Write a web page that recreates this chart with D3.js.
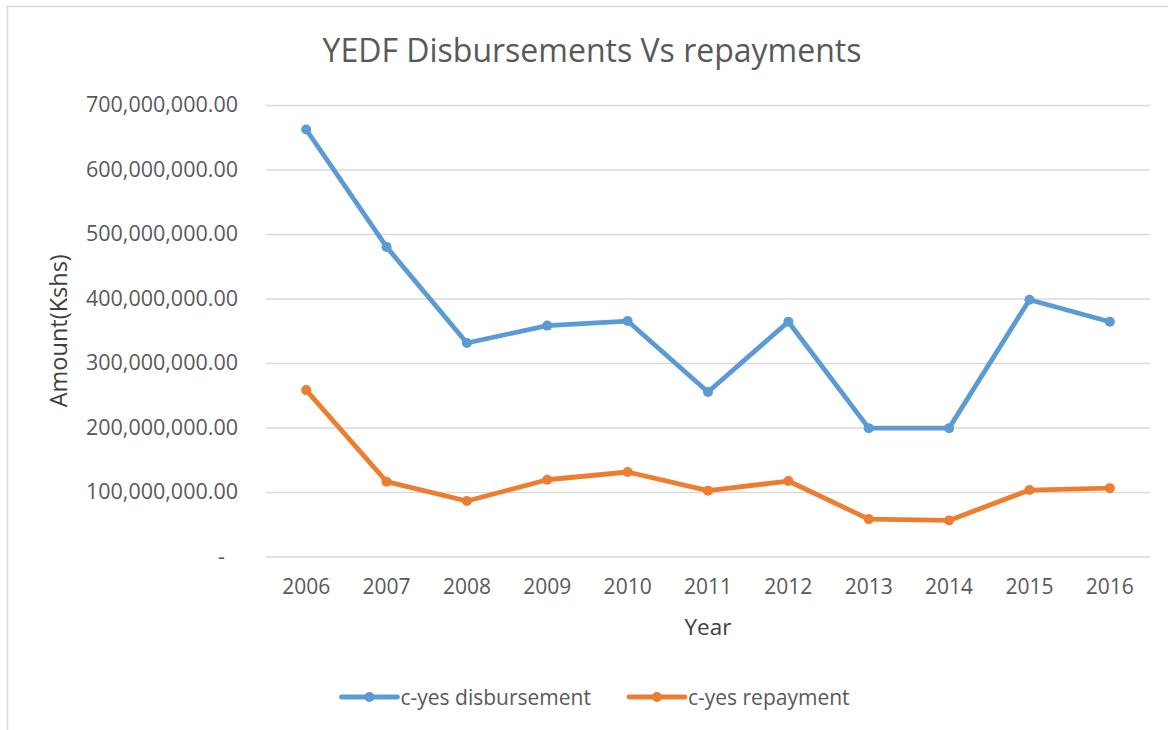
<!DOCTYPE html>
<html>
<head>
<meta charset="utf-8">
<script src="https://cdn.jsdelivr.net/npm/d3@7"></script>
<style>
  html, body { margin: 0; padding: 0; background: #fff; }
  svg { display: block; font-family: "Open Sans", sans-serif; }
</style>
</head>
<body>
<svg id="mainsvg" width="1168" height="730"></svg>
<script>
// 年份 (categories)
const years = ['2006', '2007', '2008', '2009', '2010', '2011', '2012', '2013', '2014', '2015', '2016'];
// c-yes disbursement (Kshs)
const disbursement = [662e6, 480e6, 331e6, 358e6, 365e6, 255e6, 364e6, 199e6, 199e6, 398e6, 364e6];
// c-yes repayment (Kshs)
const repayment = [258e6, 116e6, 86e6, 119e6, 131e6, 102e6, 117e6, 58e6, 56e6, 103e6, 106e6];
const yTicks = [0, 100e6, 200e6, 300e6, 400e6, 500e6, 600e6, 700e6];
const seriesNames = ['c-yes disbursement', 'c-yes repayment'];

(function () {
  const svg = d3.select('#mainsvg'),
    width = Number(svg.attr('width')),
    height = Number(svg.attr('height')),
    margin = { top: 105, right: 18, bottom: 173.5, left: 266 },
    innerWidth = width - margin.left - margin.right,
    innerHeight = height - margin.top - margin.bottom;

  const textColor = '#595959',
    gridColor = '#d9d9d9',
    colors = ['#5b9bd5', '#ed7d31'];

  // 外框
  svg.append('rect')
    .attr('x', 7.5).attr('y', 6.5)
    .attr('width', width).attr('height', height)
    .attr('fill', 'none')
    .attr('stroke', gridColor)
    .attr('stroke-width', 1.5);

  const g = svg.append('g')
    .attr('transform', `translate(${margin.left}, ${margin.top})`);

  const xScale = d3.scaleBand().domain(years).range([0, innerWidth]).padding(0);
  const yScale = d3.scaleLinear().domain([0, 700e6]).range([innerHeight, 0]);

  // y axis + grid
  const yAxis = d3.axisLeft(yScale)
    .tickValues(yTicks)
    .tickSize(-innerWidth)
    .tickPadding(28)
    .tickFormat(d => d === 0 ? '-' : d3.format(',.2f')(d));

  const yg = g.append('g').call(yAxis);
  yg.select('.domain').remove();
  yg.selectAll('.tick line').attr('stroke', gridColor).attr('stroke-width', 1.5);
  yg.selectAll('.tick text')
    .attr('fill', textColor)
    .attr('font-size', '21.5px')
    .attr('font-family', '"Open Sans", sans-serif')
    .attr('dx', d => d === 0 ? -13 : 0);

  // x axis
  const xAxis = d3.axisBottom(xScale).tickSize(0).tickPadding(23);
  const xg = g.append('g').attr('transform', `translate(0, ${innerHeight})`).call(xAxis);
  xg.select('.domain').remove();
  xg.selectAll('.tick text')
    .attr('fill', textColor)
    .attr('font-size', '21px')
    .attr('font-family', '"Open Sans", sans-serif');

  // lines
  const cx = d => xScale(d) + xScale.bandwidth() / 2;
  [disbursement, repayment].forEach((values, i) => {
    const pts = years.map((y, j) => [y, values[j]]);
    const line = d3.line().x(p => cx(p[0])).y(p => yScale(p[1]));
    g.append('path')
      .datum(pts)
      .attr('d', line)
      .attr('fill', 'none')
      .attr('stroke', colors[i])
      .attr('stroke-width', 4.8)
      .attr('stroke-linejoin', 'round')
      .attr('stroke-linecap', 'round');
    g.selectAll(null).data(pts).enter().append('circle')
      .attr('cx', p => cx(p[0]))
      .attr('cy', p => yScale(p[1]))
      .attr('r', 5)
      .attr('fill', colors[i]);
  });

  // title
  svg.append('text')
    .text('YEDF Disbursements Vs repayments')
    .attr('x', 592).attr('y', 62)
    .attr('text-anchor', 'middle')
    .attr('font-size', '32px')
    .attr('fill', textColor);

  // axis titles
  svg.append('text')
    .text('Year')
    .attr('x', margin.left + innerWidth / 2).attr('y', 635)
    .attr('text-anchor', 'middle')
    .attr('font-size', '22.5px')
    .attr('fill', '#404040');

  svg.append('text')
    .text('Amount(Kshs)')
    .attr('transform', `translate(67, ${margin.top + innerHeight / 2}) rotate(-90)`)
    .attr('text-anchor', 'middle')
    .attr('font-size', '23.5px')
    .attr('fill', '#404040');

  // legend
  const legend = svg.append('g');
  let lx = 0;
  seriesNames.forEach((name, i) => {
    const item = legend.append('g').attr('transform', `translate(${lx}, 0)`);
    item.append('line')
      .attr('x1', 0).attr('x2', 56).attr('y1', 0).attr('y2', 0)
      .attr('stroke', colors[i]).attr('stroke-width', 4.8).attr('stroke-linecap', 'round');
    item.append('circle').attr('cx', 28).attr('cy', 0).attr('r', 5).attr('fill', colors[i]);
    const t = item.append('text')
      .text(name)
      .attr('x', 59).attr('y', 8)
      .attr('font-size', '21px')
      .attr('fill', textColor);
    lx += 59 + t.node().getComputedTextLength() + 38;
  });
  const legendWidth = lx - 38;
  legend.attr('transform', `translate(${595.5 - legendWidth / 2}, 697)`);
})();
</script>
</body>
</html>
